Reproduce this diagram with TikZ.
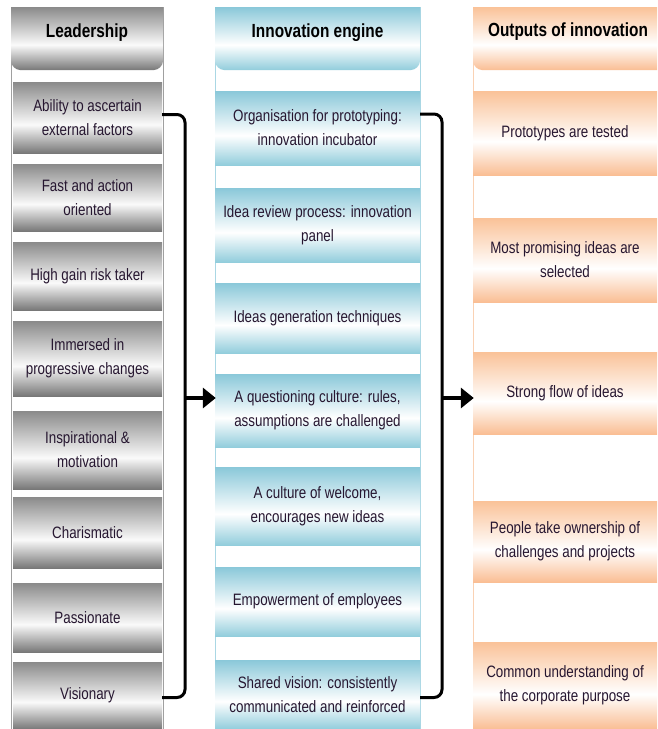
\documentclass[tikz,border=0pt]{standalone}
\usepackage{fontspec}
\setmainfont[FakeStretch=0.81]{Liberation Sans}
\usetikzlibrary{arrows.meta}
\definecolor{gtop}{RGB}{138,138,138}
\definecolor{gbot}{RGB}{120,120,120}
\definecolor{glight}{RGB}{250,250,250}
\definecolor{btop}{RGB}{138,200,217}
\definecolor{bbot}{RGB}{146,205,220}
\definecolor{ptop}{RGB}{250,194,152}
\definecolor{pbot}{RGB}{250,190,148}
\definecolor{gframe}{RGB}{160,160,160}
\definecolor{bframe}{RGB}{170,215,228}
\definecolor{pframe}{RGB}{250,210,180}
\definecolor{txt}{RGB}{38,22,48}
\pgfdeclareverticalshading{silver}{100bp}{color(0bp)=(gbot); color(25bp)=(gbot); color(45bp)=(glight); color(75bp)=(gtop); color(100bp)=(gtop)}
\pgfdeclareverticalshading{aqua}{100bp}{color(0bp)=(bbot); color(25bp)=(bbot); color(45bp)=(white); color(75bp)=(btop); color(100bp)=(btop)}
\pgfdeclareverticalshading{peach}{100bp}{color(0bp)=(pbot); color(25bp)=(pbot); color(45bp)=(white); color(75bp)=(ptop); color(100bp)=(ptop)}
\tikzset{
  item/.style={rectangle, inner sep=2pt, align=center, text=txt,
    font=\fontsize{16.5}{24}\selectfont},
  gitem/.style={item, shading=silver, minimum width=149pt},
  bitem/.style={item, shading=aqua, minimum width=205pt},
  pitem/.style={item, shading=peach, minimum width=184pt},
  headtext/.style={font=\bfseries\fontsize{19}{22}\selectfont, text=black, inner sep=0pt},
  brk/.style={line width=3pt, rounded corners=8pt, black},
  flow/.style={line width=4pt, black, -{Triangle[length=13pt,width=20pt]}, shorten >=-1pt}
}
\begin{document}
\begin{tikzpicture}[x=1pt,y=-1pt]
\useasboundingbox (0,0) rectangle (657,729);
\fill[white] (0,0) rectangle (657,729);
% column frames
\draw[gframe, line width=0.8pt] (11,7) -- (11,729) (163,7) -- (163,729);
\draw[bframe, line width=0.8pt] (215,7) -- (215,729) (420,7) -- (420,729);
\draw[pframe, line width=0.8pt] (473,7) -- (473,729);
% headers
\shade[shading=silver] (11,7) -- (163,7) -- (163,61) .. controls (163,66) and (158,70) .. (154,70) -- (20,70) .. controls (16,70) and (11,66) .. (11,61) -- cycle;
\shade[shading=aqua] (215,7) -- (420,7) -- (420,61) .. controls (420,66) and (415,70) .. (411,70) -- (224,70) .. controls (220,70) and (215,66) .. (215,61) -- cycle;
\shade[shading=peach] (473,7) -- (657,7) -- (657,70) -- (482,70) .. controls (478,70) and (473,66) .. (473,61) -- cycle;
\node[headtext] (lh) at (87,32.5) {Leadership};
\node[headtext] (mh) at (317.5,32.5) {Innovation engine};
\node[headtext] (rh) at (568,31.5) {Outputs of innovation};
% left items
\node[gitem, minimum height=71pt] (l1) at (87.5,117.5) {Ability to ascertain\\external factors};
\node[gitem, minimum height=67pt] (l2) at (87.5,197.5) {Fast and action\\oriented};
\node[gitem, minimum height=68pt] (l3) at (87.5,276) {High gain risk taker};
\node[gitem, minimum height=75pt] (l4) at (87.5,358.5) {Immersed in\\progressive changes};
\node[gitem, minimum height=78pt] (l5) at (87.5,450) {Inspirational \&\\motivation};
\node[gitem, minimum height=71pt] (l6) at (87.5,532.5) {Charismatic};
\node[gitem, minimum height=69pt] (l7) at (87.5,617.5) {Passionate};
\node[gitem, minimum height=67pt] (l8) at (87.5,695.5) {Visionary};
% middle items
\node[bitem, minimum height=74pt] (m1) at (317.5,128) {Organisation for prototyping:\\innovation incubator};
\node[bitem, minimum height=74pt] (m2) at (317.5,225) {Idea review process: innovation\\panel};
\node[bitem, minimum height=70pt] (m3) at (317.5,318) {Ideas generation techniques};
\node[bitem, minimum height=73pt] (m4) at (317.5,410.5) {A questioning culture: rules,\\assumptions are challenged};
\node[bitem, minimum height=78pt] (m5) at (317.5,506) {A culture of welcome,\\encourages new ideas};
\node[bitem, minimum height=69pt] (m6) at (317.5,601.5) {Empowerment of employees};
\node[bitem, minimum height=69pt] (m7) at (317.5,694.5) {Shared vision: consistently\\communicated and reinforced};
% right items
\node[pitem, minimum height=84pt] (r1) at (565,133) {Prototypes are tested};
\node[pitem, minimum height=84pt] (r2) at (565,260) {Most promising ideas are\\selected};
\node[pitem, minimum height=82pt] (r3) at (565,393) {Strong flow of ideas};
\node[pitem, minimum height=81pt] (r4) at (565,541.5) {People take ownership of\\challenges and projects};
\node[pitem, minimum height=87pt] (r5) at (565,685.5) {Common understanding of\\the corporate purpose};
% brackets
\coordinate (lbx) at (185,0);
\coordinate (mbx) at (442,0);
\draw[brk] ([yshift=3pt]l1.east) -- ([yshift=3pt]l1.east -| lbx) -- ([yshift=-2pt]l8.east -| lbx) -- ([yshift=-2pt]l8.east);
\draw[brk] ([yshift=14pt]m1.east) -- ([yshift=14pt]m1.east -| mbx) -- ([yshift=-3pt]m7.east -| mbx) -- ([yshift=-3pt]m7.east);
% arrows
\coordinate (la) at (185,398);
\coordinate (ma) at (442,398);
\draw[flow] (la) -- (la -| m4.west);
\draw[flow] (ma) -- (ma -| r3.west);
\end{tikzpicture}
\end{document}
